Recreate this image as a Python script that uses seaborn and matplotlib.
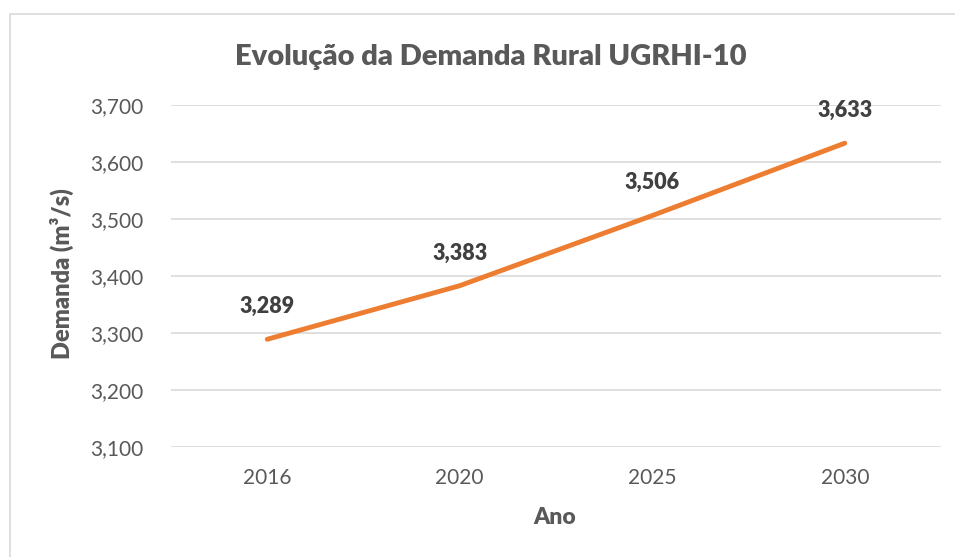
import matplotlib
matplotlib.use("Agg")
import matplotlib.pyplot as plt
import seaborn as sns
import pandas as pd
from matplotlib.patches import Rectangle
from matplotlib.ticker import FuncFormatter

anos = ["2016", "2020", "2025", "2030"]
demanda = [3.289, 3.383, 3.506, 3.633]
titulo = "Evolução da Demanda Rural UGRHI-10"

sns.set_theme(style="white")
plt.rcParams['font.family'] = ['Lato', 'DejaVu Sans']

df = pd.DataFrame({"Ano": anos, "Demanda": demanda})

fig = plt.figure(figsize=(9.55, 5.57), dpi=100)
ax = fig.add_axes([171/955, 1-447/557, 770/955, 342/557])

fig.patches.append(Rectangle((10/955, -0.1), 1.2, (557-14)/557 + 0.1,
                             transform=fig.transFigure, fill=False,
                             edgecolor="#d9d9d9", linewidth=1.2))

sns.lineplot(data=df, x="Ano", y="Demanda", ax=ax, color="#ed7d31",
             linewidth=3.5, solid_capstyle="round")

ax.set_xlim(-0.5, 3.5)
ax.set_ylim(3.1, 3.7)
ax.set_yticks([3.1, 3.2, 3.3, 3.4, 3.5, 3.6, 3.7])
ax.yaxis.set_major_formatter(FuncFormatter(lambda v, p: f"{v:.3f}".replace(".", ",")))
ax.grid(axis="y", color="#d9d9d9", linewidth=1.2)
ax.set_axisbelow(True)
for s in ax.spines.values():
    s.set_visible(False)
ax.tick_params(axis="both", length=0, labelsize=15, labelcolor="#595959")
ax.tick_params(axis="y", pad=20)
ax.tick_params(axis="x", pad=15)
ax.set_xlabel("")
ax.set_ylabel("")

for i, v in enumerate(demanda):
    ax.annotate(f"{v:.3f}".replace(".", ","), (i, v), xytext=(0, 16),
                textcoords="offset points", ha="center", va="bottom",
                fontsize=15.5, fontweight="heavy", color="#404040")

fig.text(555/955, 1-518/557, "Ano", ha="center", va="center",
         fontsize=16.5, fontweight="heavy", color="#595959")
fig.text(62/955, 1-274/557, "Demanda (m³/s)", ha="center", va="center", rotation=90,
         fontsize=17, fontweight="heavy", color="#595959")
fig.text(491/955, 1-57/557, titulo, ha="center", va="center",
         fontsize=21, fontweight="heavy", color="#595959")

fig.savefig("out.png", dpi=100)
